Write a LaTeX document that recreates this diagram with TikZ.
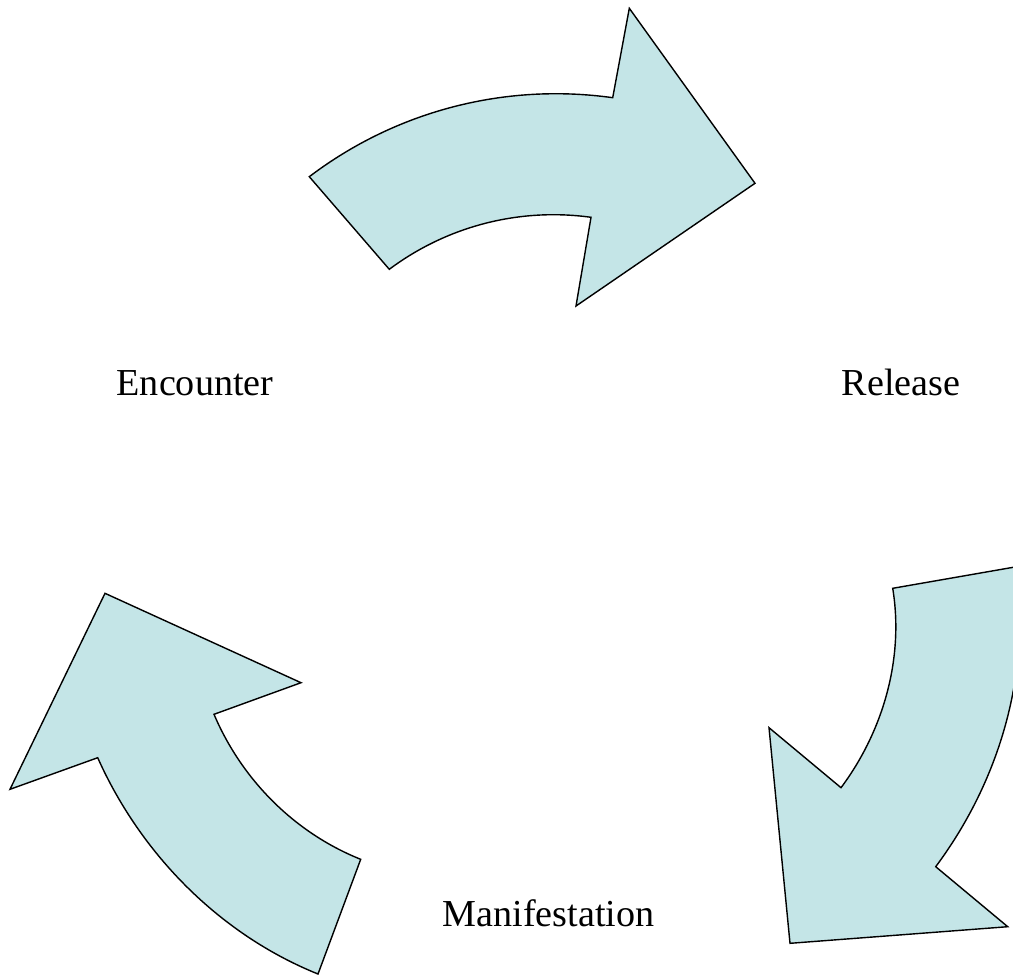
\documentclass[tikz,border=0pt]{standalone}
\usepackage{fontspec}
\setmainfont{Liberation Serif}
\definecolor{arrowfill}{RGB}{196,229,231}
\tikzset{
  cyclearrow/.style={draw=black, fill=arrowfill, line width=0.8pt, line join=miter},
  label/.style={anchor=base, inner sep=0pt, font=\fontsize{21.7pt}{26pt}\selectfont}
}
\begin{document}
\begin{tikzpicture}[x=0.02cm, y=-0.02cm]
\useasboundingbox (0,0) rectangle (1013,977);
\clip (0,0) rectangle (1013,977);
% top arrow
\path[cyclearrow] (309.3,176.7) .. controls (396,110.9) and (505,82.6) .. (612.7,97.7)
  -- (629.3,8.3) -- (755,183.3) -- (576,306) -- (591,217.3)
  .. controls (519.5,207.4) and (447.1,226.1) .. (389.3,269.3) -- cycle;
% right arrow
\path[cyclearrow] (1016,566.8) .. controls (1031,671) and (1001,779) .. (935.7,866.7)
  -- (1007.7,926.7) -- (790,943.3) -- (769,727.7) -- (841,787.7)
  .. controls (884,730) and (904,657) .. (892.7,588.3) -- cycle;
% left arrow
\path[cyclearrow] (318,974) .. controls (219.8,934.4) and (140.8,854.2) .. (97.7,757.7)
  -- (10,789.3) -- (105,593.3) -- (301,682.7) -- (214,714.3)
  .. controls (241.6,779.2) and (294,832.6) .. (360.7,859.3) -- cycle;
% labels
\node[label] (encounter) at (195,395) {Encounter};
\node[label] (release) at (901,395) {Release};
\node[label] (manifestation) at (548.5,926.7) {Manifestation};
\end{tikzpicture}
\end{document}
